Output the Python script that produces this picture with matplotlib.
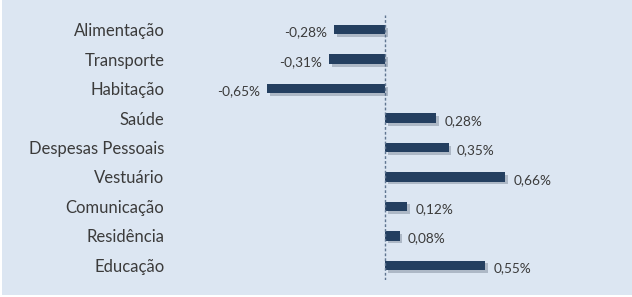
import matplotlib
matplotlib.use("Agg")
import matplotlib.pyplot as plt
import matplotlib.patheffects as pe
from matplotlib.patches import Rectangle

categories = ["Alimentação", "Transporte", "Habitação", "Saúde", "Despesas Pessoais",
              "Vestuário", "Comunicação", "Residência", "Educação"]
values = [-0.28, -0.31, -0.65, 0.28, 0.35, 0.66, 0.12, 0.08, 0.55]
labels = ["-0,28%", "-0,31%", "-0,65%", "0,28%", "0,35%", "0,66%", "0,12%", "0,08%", "0,55%"]

W, H = 632, 297
fig = plt.figure(figsize=(W/100, H/100), dpi=100)
bg = "#dce6f2"
fig.patch.set_facecolor("white")
fig.patches.append(Rectangle((2/W, 2/H), 1, 1, transform=fig.transFigure,
                             facecolor=bg, edgecolor="none", zorder=-10))
ax = fig.add_axes([170/W, 17/H, 460/W, 265/H])
ax.set_facecolor("none")
fam = ["Lato", "DejaVu Sans"]

y = list(range(len(categories)))
bars = ax.barh(y, values, height=0.32, color="#243f60", zorder=3)
for b in bars:
    b.set_path_effects([pe.SimplePatchShadow(offset=(2, -2), shadow_rgbFace="#7f8c9c", alpha=0.5), pe.Normal()])

ax.set_xlim(-1.185, 1.35)
ax.set_ylim(len(categories) - 0.5, -0.5)
ax.axvline(0, color="#5f7590", linestyle=(0, (2, 1.5)), linewidth=1.0, zorder=4)

for yi, v, t in zip(y, values, labels):
    if v < 0:
        ax.annotate(t, (v, yi), xytext=(-5, -2), textcoords="offset points",
                    ha="right", va="center", fontsize=9.8, color="#3b3b3b", family=fam)
    else:
        ax.annotate(t, (v, yi), xytext=(6, -2), textcoords="offset points",
                    ha="left", va="center", fontsize=9.8, color="#3b3b3b", family=fam)

ax.set_yticks(y)
ax.set_yticklabels(categories, fontsize=12, color="#3b3b3b", family=fam)
ax.tick_params(axis="y", length=0, pad=4)
ax.set_xticks([])
for s in ax.spines.values():
    s.set_visible(False)

fig.savefig("out.png", dpi=100, facecolor="white")
